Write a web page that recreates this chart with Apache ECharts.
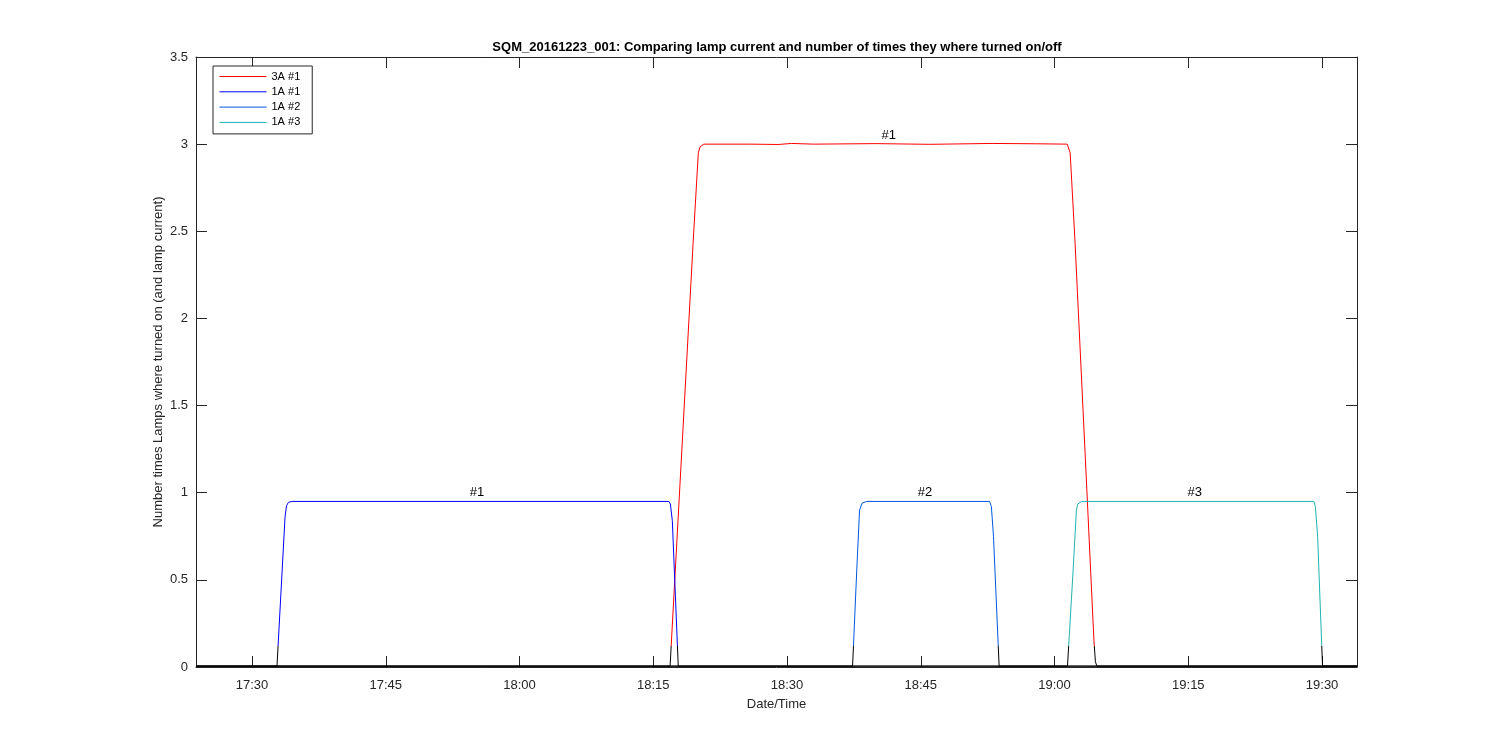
<!DOCTYPE html>
<html>
<head>
<meta charset="utf-8">
<script src="https://cdn.jsdelivr.net/npm/echarts@6/dist/echarts.min.js"></script>
<style>html,body{margin:0;padding:0;background:#fff}#c{width:1500px;height:750px}</style>
</head>
<body>
<div id="c"></div>
<script>
// ---- data ----
const xStart = '17:23:43';
const xEnd = '19:33:55';
const xTickLabels = ['17:30', '17:45', '18:00', '18:15', '18:30', '18:45', '19:00', '19:15', '19:30'];
const yTicks = [0, 0.5, 1, 1.5, 2, 2.5, 3, 3.5];
const seriesNames = ['3A #1', '1A #1', '1A #2', '1A #3'];

const lamp3A1Times = ['17:23:43','18:16:53','18:19:29','18:20:03','18:20:15','18:20:40','18:26:00','18:29:00','18:30:30','18:33:00','18:40:00','18:46:00','18:53:00','18:58:00','19:01:25','19:01:35','19:01:45','19:02:17','19:03:31','19:04:25','19:04:35','19:04:45','19:33:55'];
const lamp3A1Values = [0.005,0.005,2.45,2.95,2.985,3.0,3.0,2.998,3.004,3.0,3.003,2.999,3.004,3.002,3.0,2.99,2.95,2.45,1.13,0.15,0.03,0.005,0.005];

const lamp1A1Times = ['17:23:43','17:32:48','17:33:42','17:33:52','17:34:05','17:34:30','18:16:45','18:16:55','18:17:08','18:17:48','19:33:55'];
const lamp1A1Values = [0.005,0.005,0.86,0.925,0.945,0.95,0.95,0.935,0.84,0.005,0.005];

const lamp1A2Times = ['17:23:43','18:37:21','18:37:49','18:38:08','18:38:25','18:38:55','18:52:43','18:52:55','18:53:09','18:53:47','19:33:55'];
const lamp1A2Values = [0.005,0.005,0.556,0.9,0.94,0.95,0.95,0.92,0.75,0.005,0.005];

const lamp1A3Times = ['17:23:43','19:01:27','19:02:05','19:02:27','19:02:36','19:03:01','19:29:05','19:29:15','19:29:30','19:30:03','19:33:55'];
const lamp1A3Values = [0.005,0.005,0.556,0.9,0.935,0.95,0.95,0.92,0.75,0.005,0.005];

const labelTexts = ['#1', '#1', '#2', '#3'];
const labelTimes = ['18:41:25', '17:55:14', '18:45:28', '19:15:43'];
const labelValues = [3.0, 0.95, 0.95, 0.95];

// ---- styling ----
const colors = ['#ff0000', '#0000ff', '#0058e0', '#22b2b2'];
const axisColor = '#262626';
const FONT = 'Liberation Sans, Arial, Helvetica, sans-serif';

function tm(s) {
  const p = s.split(':').map(Number);
  return new Date(2016, 11, 23, p[0], p[1], p[2] || 0).getTime();
}
function pad(n) { return (n < 10 ? '0' : '') + n; }
function zip(ts, vs) { return ts.map((t, i) => [tm(t), vs[i]]); }

const allTimes = [lamp3A1Times, lamp1A1Times, lamp1A2Times, lamp1A3Times];
const allValues = [lamp3A1Values, lamp1A1Values, lamp1A2Values, lamp1A3Values];

const xMin = tm(xStart), xMax = tm(xEnd);
const xTickValues = xTickLabels.map(s => tm(s));

const chart = echarts.init(document.getElementById('c'), null, { renderer: 'canvas' });

const baseX = {
  type: 'value', min: xMin, max: xMax,
  axisLine: { show: true, onZero: false, lineStyle: { color: axisColor, width: 1 } },
  axisTick: { show: true, inside: true, length: 11, customValues: xTickValues, lineStyle: { color: axisColor } },
  splitLine: { show: false },
  minorTick: { show: false }
};
const baseY = {
  type: 'value', min: yTicks[0], max: yTicks[yTicks.length - 1], interval: 0.5,
  axisLine: { show: true, onZero: false, lineStyle: { color: axisColor, width: 1 } },
  axisTick: { show: true, inside: true, length: 11, lineStyle: { color: axisColor } },
  splitLine: { show: false }
};

// legend carriers (no data, only give the legend its line colours)
const legendSeries = seriesNames.map((name, i) => ({
  name: name, type: 'line', xAxisIndex: 0, yAxisIndex: 0,
  symbol: 'none', showSymbol: false,
  lineStyle: { width: 1, color: colors[i] }, itemStyle: { color: colors[i] },
  data: []
}));

const N = legendSeries.length;

const dataSeries = seriesNames.map((name, i) => ({
  name: name,
  type: 'line',
  xAxisIndex: 0, yAxisIndex: 0,
  showSymbol: false, symbol: 'none',
  color: colors[i],
  lineStyle: { width: 1 },
  z: 2,
  data: zip(allTimes[i], allValues[i])
}));

const labelSeries = {
  name: 'labels',
  type: 'scatter',
  xAxisIndex: 0, yAxisIndex: 0,
  symbolSize: 1,
  itemStyle: { color: '#fff', opacity: 0 },
  silent: true,
  z: 5,
  label: {
    show: true, position: 'top', distance: 2, color: '#000', opacity: 1, fontSize: 13, fontFamily: FONT,
    textBorderWidth: 0,
    formatter: p => p.data[2]
  },
  data: labelTexts.map((t, i) => [tm(labelTimes[i]), labelValues[i], t])
};

chart.setOption({
  backgroundColor: '#fff',
  animation: false,
  title: {
    text: 'SQM_20161223_001: Comparing lamp current and number of times they where turned on/off',
    left: 777, top: 41, padding: 0, textAlign: 'center',
    textStyle: { fontSize: 13, fontWeight: 'bold', color: '#000', fontFamily: FONT }
  },
  grid: { left: 196, right: 143, top: 57, bottom: 83, containLabel: false },
  legend: {
    orient: 'vertical', left: 213, top: 66,
    backgroundColor: '#fff', borderColor: axisColor, borderWidth: 1,
    padding: [5, 12, 6, 6], itemWidth: 47, itemHeight: 11, itemGap: 4.3,
    textStyle: { fontSize: 11, color: '#000', fontFamily: FONT },
    itemStyle: { opacity: 0 },
    lineStyle: { width: 1 },
    data: seriesNames.slice()
  },
  visualMap: seriesNames.map((n, i) => ({
    type: 'piecewise', show: false, seriesIndex: N + i, dimension: 1,
    pieces: [{ min: -1, max: 0.12, color: '#000000' }, { min: 0.12, max: 4, color: colors[i] }]
  })),
  xAxis: [
    Object.assign({}, baseX, {
      position: 'bottom',
      name: 'Date/Time', nameLocation: 'middle', nameGap: 31, nameMoveOverlap: false,
      nameTextStyle: { fontSize: 13, color: axisColor, fontFamily: FONT },
      axisLabel: {
        show: true, fontSize: 13, color: axisColor, fontFamily: FONT, margin: 12,
        customValues: xTickValues,
        formatter: function (v) {
          const d = new Date(v);
          return pad(d.getHours()) + ':' + pad(d.getMinutes());
        }
      }
    }),
    Object.assign({}, baseX, { position: 'top', axisLabel: { show: false } })
  ],
  yAxis: [
    Object.assign({}, baseY, {
      position: 'left',
      name: 'Number times Lamps where turned on (and lamp current)',
      nameLocation: 'middle', nameGap: 31, nameMoveOverlap: false,
      nameTextStyle: { fontSize: 13, color: axisColor, fontFamily: FONT },
      axisLabel: { show: true, fontSize: 13, color: axisColor, fontFamily: FONT, margin: 8 }
    }),
    Object.assign({}, baseY, { position: 'right', axisLabel: { show: false } })
  ],
  series: legendSeries.concat(dataSeries, [labelSeries])
});
</script>
</body>
</html>
